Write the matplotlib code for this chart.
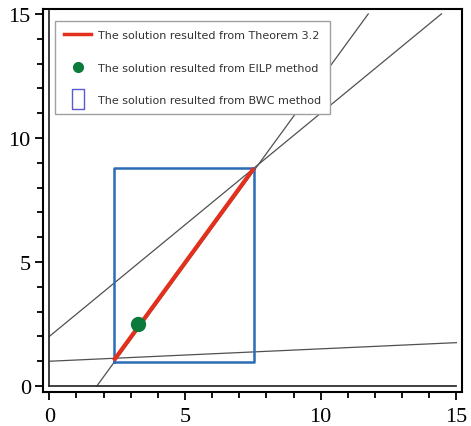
import matplotlib.pyplot as plt
from matplotlib.lines import Line2D

# constraint lines (x from, x to, y = a + b*x)
line_x = [[0, 14.45], [1.75, 11.75], [0, 15]]
line_a = [2.0, -2.625, 1.0]
line_b = [0.9, 1.5, 0.05]

# solution from Theorem 3.2 (segment)
seg_x = [2.42, 7.5]
seg_y = [1.1, 8.72]

# EILP point
eilp_x = [3.28]
eilp_y = [2.52]

# BWC box
box_x = [2.38, 7.53]
box_y = [0.97, 8.78]

ticks = [0, 5, 10, 15]

fig = plt.figure(figsize=(4.71, 4.27), dpi=100)
ax = fig.add_axes([0.092, 0.0796, 0.888, 0.897])

for xs, a, b in zip(line_x, line_a, line_b):
    ax.plot(xs, [a + b * x for x in xs], color='#505050', lw=0.9)

# inner axis lines
ax.plot([0, 15], [0, 0], color='#303030', lw=1.3)
ax.plot([0, 0], [0, 15.1], color='#303030', lw=1.3)

ax.plot([box_x[0], box_x[1], box_x[1], box_x[0], box_x[0]],
        [box_y[0], box_y[0], box_y[1], box_y[1], box_y[0]],
        color='#2b6cb5', lw=1.8)
ax.plot(seg_x, seg_y, color='#e3301c', lw=3)
ax.plot(eilp_x, eilp_y, 'o', color='#0b7a3b', ms=10)

ax.set_xlim(-0.22, 15.19)
ax.set_ylim(-0.24, 15.2)
ax.set_xticks(ticks)
ax.set_yticks(ticks)
ax.set_xticks(range(16), minor=True)
ax.set_yticks(range(16), minor=True)
ax.tick_params(which='major', length=6, width=1.3, labelsize=16, pad=3)
ax.tick_params(axis='x', which='major', pad=5)
ax.tick_params(which='minor', length=4, width=1.3)
for lab in ax.get_xticklabels() + ax.get_yticklabels():
    lab.set_fontfamily('Liberation Serif')
for s in ax.spines.values():
    s.set_linewidth(1.5)

rect_marker = [(-0.6, -1), (0.6, -1), (0.6, 1), (-0.6, 1), (-0.6, -1)]
handles = [
    Line2D([], [], color='#e3301c', lw=2.5),
    Line2D([], [], ls='none', marker='o', color='#0b7a3b', ms=7),
    Line2D([], [], ls='none', marker=rect_marker, ms=15, mfc='none', mec='#5a5ad0', mew=1),
]
labels = ['The solution resulted from Theorem 3.2',
          'The solution resulted from EILP method',
          'The solution resulted from BWC method']
leg = ax.legend(handles, labels, loc='upper left', bbox_to_anchor=(0.028, 0.969),
                prop={'family': 'DejaVu Sans', 'size': 8.0}, labelspacing=2.0,
                handlelength=2.4, handletextpad=0.6, borderpad=0.85, fancybox=False,
                edgecolor='#a0a0a0', framealpha=1, borderaxespad=0)
for t in leg.get_texts():
    t.set_color('#333333')

fig.savefig('out.png', dpi=100)
